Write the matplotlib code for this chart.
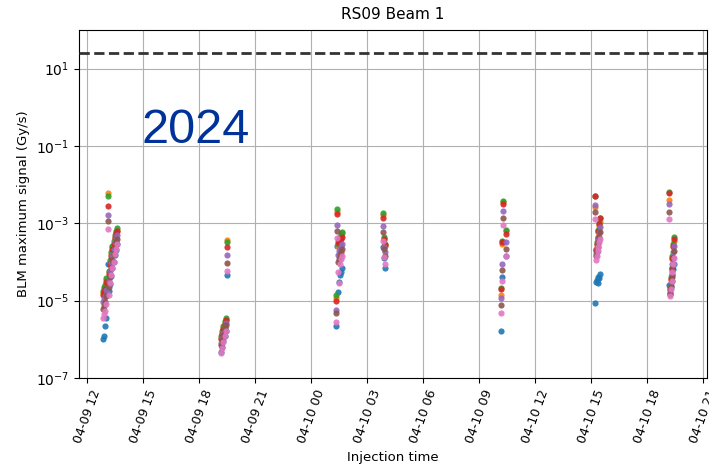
import pandas as pd
import matplotlib
matplotlib.use("Agg")
import matplotlib.pyplot as plt
import matplotlib.dates as mdates
from matplotlib.ticker import NullLocator

# injection timestamps (7 fills)
inj_times = [
    "2024-04-09 12:50", "2024-04-09 12:54", "2024-04-09 12:58", "2024-04-09 13:02", "2024-04-09 13:06",
    "2024-04-09 13:09", "2024-04-09 13:13", "2024-04-09 13:17", "2024-04-09 13:21", "2024-04-09 13:25",
    "2024-04-09 13:29", "2024-04-09 13:33", "2024-04-09 13:37",
    "2024-04-09 19:10", "2024-04-09 19:14", "2024-04-09 19:18", "2024-04-09 19:22", "2024-04-09 19:26",
    "2024-04-09 19:30",
    "2024-04-10 01:20", "2024-04-10 01:24", "2024-04-10 01:27", "2024-04-10 01:30", "2024-04-10 01:33",
    "2024-04-10 01:36", "2024-04-10 01:40",
    "2024-04-10 03:51", "2024-04-10 03:54", "2024-04-10 03:57",
    "2024-04-10 10:12", "2024-04-10 10:15", "2024-04-10 10:17", "2024-04-10 10:27",
    "2024-04-10 15:14", "2024-04-10 15:17", "2024-04-10 15:19", "2024-04-10 15:21", "2024-04-10 15:23",
    "2024-04-10 15:26", "2024-04-10 15:28",
    "2024-04-10 19:11", "2024-04-10 19:14", "2024-04-10 19:16", "2024-04-10 19:19", "2024-04-10 19:21",
    "2024-04-10 19:24", "2024-04-10 19:26",
]

# BLM maximum signal per monitor (Gy/s)
blm1 = [1.0e-6, 1.2e-6, 2.2e-6, 3.5e-6, 9e-5, 1.8e-5, 2.7e-5, 4.4e-5, 6.8e-5, 1.0e-4, 1.55e-4, 2.1e-4, 2.9e-4,
        4.7e-7, 6.3e-7, 8.9e-7, 1.25e-6, 1.65e-6, 4.7e-5,
        2.2e-6, 2.6e-4, 1.7e-5, 3.0e-5, 4.5e-5, 5.5e-5, 7e-5,
        2.4e-4, 1.3e-4, 6.8e-5,
        1.6e-6, 4.0e-5, 3.3e-4, 1.4e-4,
        8.5e-6, 3.0e-5, 3.5e-5, 4.2e-5, 2.8e-5, 3.8e-5, 4.8e-5,
        2.6e-5, 1.5e-5, 2.3e-5, 3.2e-5, 4.5e-5, 6.5e-5, 9.0e-5]
blm2 = [1.6e-5, 2.0e-5, 2.4e-5, 3.5e-5, 6.0e-3, 5.5e-5, 1.0e-4, 1.6e-4, 2.5e-4, 3.0e-4, 4.5e-4, 5.5e-4, 6.5e-4,
        1.1e-6, 1.5e-6, 2.0e-6, 2.6e-6, 3.2e-6, 3.8e-4,
        1.2e-5, 2.0e-3, 2.6e-4, 3.5e-4, 4.2e-4, 4.8e-4, 5.5e-4,
        1.6e-3, 4.0e-4, 2.6e-4,
        1.4e-5, 3.0e-4, 3.5e-3, 6.5e-4,
        2.6e-3, 1.9e-4, 2.8e-4, 4.0e-4, 6.0e-4, 8.5e-4, 1.1e-3,
        3.9e-3, 1.9e-5, 3.5e-5, 6.0e-5, 1.2e-4, 2.5e-4, 3.6e-4]
blm3 = [1.8e-5, 2.2e-5, 2.6e-5, 3.8e-5, 5.0e-3, 6.0e-5, 1.1e-4, 1.8e-4, 2.6e-4, 3.5e-4, 5.0e-4, 6.5e-4, 7.5e-4,
        1.2e-6, 1.6e-6, 2.2e-6, 2.9e-6, 3.6e-6, 3.3e-4,
        1.4e-5, 2.3e-3, 3.0e-4, 3.8e-4, 4.5e-4, 5.2e-4, 6.0e-4,
        1.8e-3, 4.5e-4, 3.0e-4,
        2.1e-5, 3.4e-4, 3.8e-3, 6.9e-4,
        5.2e-3, 2.2e-4, 3.2e-4, 4.5e-4, 6.8e-4, 1.0e-3, 1.4e-3,
        6.5e-3, 2.2e-5, 4.0e-5, 7.0e-5, 1.4e-4, 3.0e-4, 4.4e-4]
blm4 = [1.4e-5, 1.7e-5, 2.0e-5, 3.0e-5, 2.8e-3, 4.8e-5, 9.0e-5, 1.4e-4, 2.2e-4, 3.0e-4, 4.2e-4, 5.5e-4, 6.5e-4,
        1.0e-6, 1.4e-6, 1.9e-6, 2.5e-6, 3.1e-6, 2.5e-4,
        1.0e-5, 1.7e-3, 3.2e-4, 3.5e-4, 3.0e-4, 4.0e-4, 4.5e-4,
        1.4e-3, 3.9e-4, 2.8e-4,
        2.0e-5, 3.2e-4, 3.1e-3, 5.4e-4,
        5.0e-3, 2.0e-4, 3.0e-4, 4.2e-4, 6.5e-4, 9.5e-4, 1.35e-3,
        6.0e-3, 2.0e-5, 3.6e-5, 6.5e-5, 1.3e-4, 2.6e-4, 4.0e-4]
blm5 = [9.0e-6, 1.1e-5, 1.3e-5, 1.9e-5, 1.6e-3, 3.2e-5, 6.0e-5, 1.0e-4, 1.5e-4, 2.2e-4, 3.2e-4, 4.2e-4, 5.0e-4,
        8.0e-7, 1.1e-6, 1.5e-6, 2.0e-6, 2.6e-6, 1.5e-4,
        5.6e-6, 9.3e-4, 1.5e-4, 1.9e-4, 2.2e-4, 2.6e-4, 3.0e-4,
        8.5e-4, 2.4e-4, 1.8e-4,
        1.2e-5, 8.7e-5, 2.1e-3, 3.3e-4,
        3.0e-3, 1.6e-4, 2.2e-4, 3.0e-4, 4.2e-4, 6.0e-4, 8.0e-4,
        3.2e-3, 1.7e-5, 2.8e-5, 5.0e-5, 9.0e-5, 1.8e-4, 2.6e-4]
blm6 = [6.0e-6, 7.5e-6, 9.0e-6, 1.3e-5, 1.15e-3, 2.2e-5, 4.2e-5, 7.0e-5, 1.1e-4, 1.6e-4, 2.4e-4, 3.2e-4, 4.0e-4,
        7.0e-7, 9.5e-7, 1.3e-6, 1.8e-6, 2.3e-6, 9.5e-5,
        4.8e-6, 6.2e-4, 1.0e-4, 1.2e-4, 1.5e-4, 1.8e-4, 2.2e-4,
        5.9e-4, 2.2e-4, 1.4e-4,
        7.6e-6, 6.2e-5, 1.4e-3, 2.2e-4,
        1.95e-3, 1.4e-4, 1.8e-4, 2.4e-4, 3.2e-4, 4.4e-4, 5.8e-4,
        1.95e-3, 1.5e-5, 2.4e-5, 4.0e-5, 7.0e-5, 1.3e-4, 1.9e-4]
blm7 = [3.5e-6, 4.5e-6, 5.5e-6, 8.0e-6, 7.2e-4, 1.4e-5, 2.8e-5, 4.5e-5, 7.0e-5, 1.0e-4, 1.6e-4, 2.2e-4, 3.0e-4,
        4.5e-7, 6.0e-7, 8.5e-7, 1.2e-6, 1.6e-6, 6.0e-5,
        2.8e-6, 4.1e-4, 5.5e-5, 2.9e-5, 9.0e-5, 1.2e-4, 1.4e-4,
        3.6e-4, 1.35e-4, 9.0e-5,
        4.9e-6, 3.2e-5, 8.9e-4, 1.4e-4,
        1.26e-3, 1.1e-4, 1.4e-4, 1.9e-4, 2.5e-4, 3.2e-4, 4.0e-4,
        1.26e-3, 1.35e-5, 2.0e-5, 3.2e-5, 5.5e-5, 9.0e-5, 1.3e-4]

threshold = 25.0

times = pd.to_datetime(inj_times)

fig = plt.figure(figsize=(7.09, 4.69), dpi=100)
ax = fig.add_axes([0.1114, 0.194, 0.886, 0.742])

for i, vals in enumerate([blm1, blm2, blm3, blm4, blm5, blm6, blm7]):
    ax.scatter(times, vals, s=20, color="C%d" % i, lw=0, alpha=0.9, zorder=3)

ax.axhline(threshold, color="#333333", ls="--", lw=2, zorder=4)

ax.set_yscale("log")
ax.set_ylim(1e-7, 1e2)
ax.set_yticks([1e-7, 1e-5, 1e-3, 1e-1, 1e1])
ax.yaxis.set_minor_locator(NullLocator())

ax.set_xlim(pd.Timestamp("2024-04-09 11:34"), pd.Timestamp("2024-04-10 21:13"))
ax.xaxis.set_major_locator(mdates.HourLocator(byhour=range(0, 24, 3)))
ax.xaxis.set_major_formatter(mdates.DateFormatter("%m-%d %H"))
ax.tick_params(axis="x", labelsize=9)
plt.setp(ax.get_xticklabels(), rotation=70)

ax.grid(True)
ax.set_title("RS09 Beam 1", fontsize=11, pad=8)
ax.set_xlabel("Injection time", fontsize=9.5)
ax.set_ylabel("BLM maximum signal (Gy/s)", fontsize=9.5)
ax.text(0.1, 0.675, "2024", transform=ax.transAxes, fontsize=35,
        color="#003399", family="Liberation Sans")

fig.savefig("out.png", dpi=100)
